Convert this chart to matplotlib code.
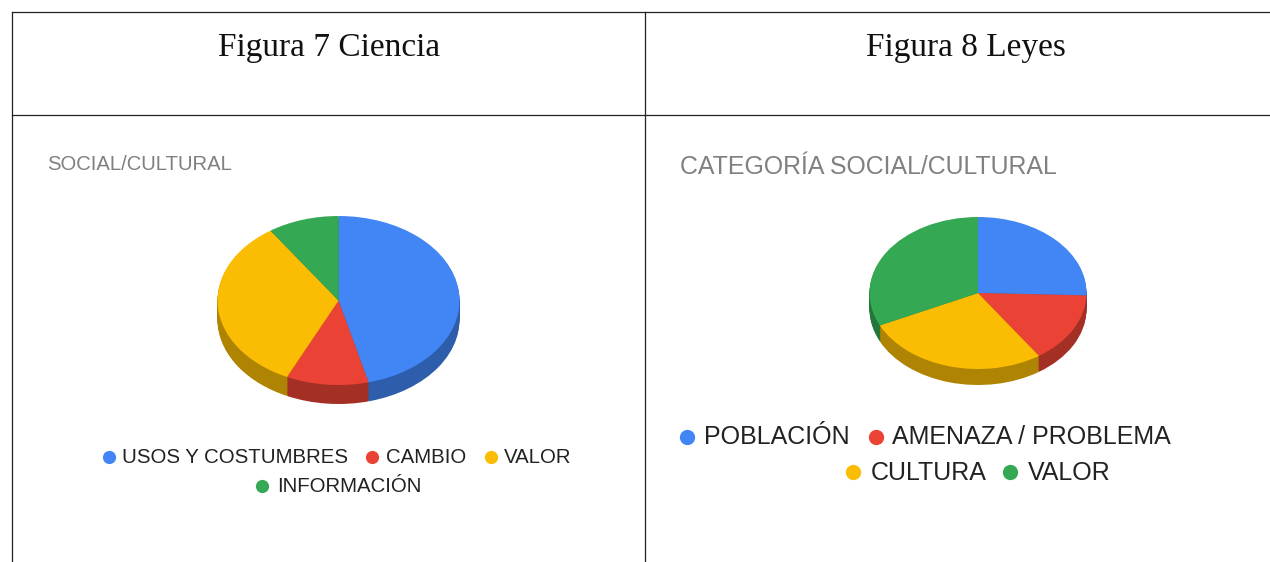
import matplotlib
matplotlib.use("Agg")
import matplotlib.pyplot as plt

W, H = 1270, 562
sci_labels = ["USOS Y COSTUMBRES", "CAMBIO", "VALOR", "INFORMACIÓN"]
sci_values = [46, 11, 33.5, 9.5]
law_labels = ["POBLACIÓN", "AMENAZA / PROBLEMA", "CULTURA", "VALOR"]
law_values = [25.5, 15, 27.5, 32]
colors = ["#4285F4", "#EA4335", "#FBBC04", "#34A853"]
dark = ["#2E5EAB", "#A42F25", "#B08403", "#24763A"]

fig = plt.figure(figsize=(W / 100, H / 100), dpi=100, facecolor="white")
bg = fig.add_axes([0, 0, 1, 1])
bg.set_xlim(0, W)
bg.set_ylim(H, 0)
bg.axis("off")

for x in (12, 645):
    bg.plot([x, x], [12, H], color="#222222", lw=0.9)
bg.plot([12, W], [12, 12], color="#222222", lw=0.9)
bg.plot([12, W], [115, 115], color="#222222", lw=0.9)

serif = ["Liberation Serif", "DejaVu Serif"]
bg.text(329.5, 48, "Figura 7 Ciencia", family=serif, fontsize=24, ha="center", va="center", color="#111111")
bg.text(965.5, 48, "Figura 8 Leyes", family=serif, fontsize=24, ha="center", va="center", color="#111111")

sans = ["Liberation Sans", "DejaVu Sans"]
bg.text(47, 164.5, "SOCIAL/CULTURAL", family=sans, fontsize=14.6, ha="left", va="center", color="#808080")
bg.text(680, 166.5, "CATEGORÍA SOCIAL/CULTURAL", family=sans, fontsize=17.9, ha="left", va="center", color="#808080")


def pie3d(values, cx, cy, rx, ry, depth):
    ax = fig.add_axes([(cx - rx) / W, 1 - (cy + ry + depth) / H,
                       2 * rx / W, (2 * ry + depth) / H])
    for i in range(depth, 0, -1):
        ax.pie(values, colors=dark, startangle=90, counterclock=False,
               center=(0, -i / ry), radius=1, wedgeprops={"linewidth": 0})
    ax.pie(values, colors=colors, startangle=90, counterclock=False,
           center=(0, 0), radius=1, wedgeprops={"linewidth": 0})
    ax.set_aspect("auto")
    ax.set_xlim(-1, 1)
    ax.set_ylim(-1 - depth / ry, 1)
    ax.axis("off")


pie3d(sci_values, 338.5, 300.5, 121, 84.5, 19)
pie3d(law_values, 978, 293, 108.5, 76, 16)


def legend(items, size, ms):
    for label, color, mx, tx, y in items:
        bg.plot([mx], [y], "o", color=color, ms=ms, mew=0)
        bg.text(tx, y + 0.5, label, family=sans, fontsize=size, ha="left", va="center", color="#222222")


legend([
    (sci_labels[0], colors[0], 108.5, 122, 457),
    (sci_labels[1], colors[1], 372, 386, 457),
    (sci_labels[2], colors[2], 490.5, 504, 457),
    (sci_labels[3], colors[3], 262, 277, 485.5),
], 14.7, 9.5)
legend([
    (law_labels[0], colors[0], 686.5, 704, 437),
    (law_labels[1], colors[1], 875.5, 892, 437),
    (law_labels[2], colors[2], 853, 871, 472),
    (law_labels[3], colors[3], 1010, 1028, 472),
], 18, 11)

fig.savefig("out.png", dpi=100)
